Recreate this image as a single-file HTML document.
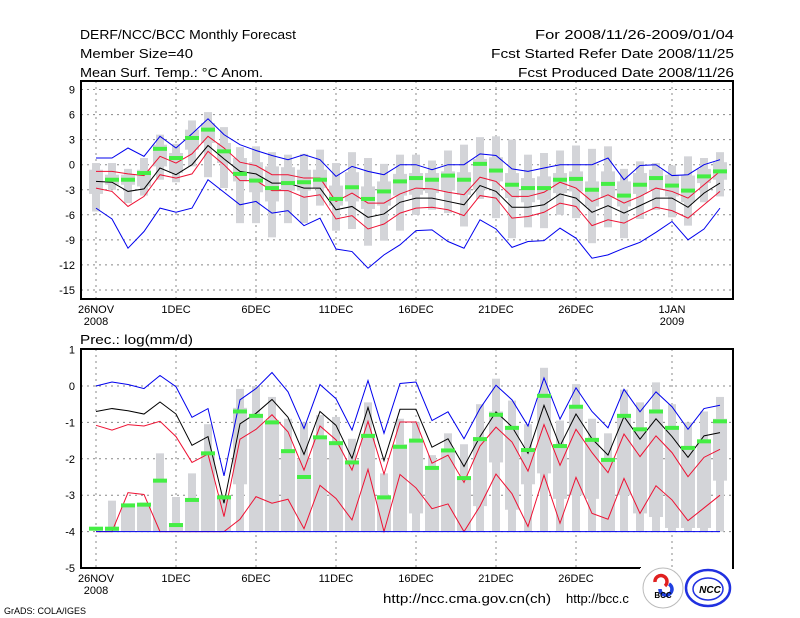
<!DOCTYPE html>
<html><head><meta charset="utf-8">
<style>
html,body{margin:0;padding:0;background:#fff;}
svg{display:block;}
text{font-family:"Liberation Sans",sans-serif;fill:#000;}
</style></head>
<body>
<svg id="chart" width="800" height="618" viewBox="0 0 800 618" xmlns="http://www.w3.org/2000/svg">
<rect width="800" height="618" fill="#fff"/>
<g font-size="13">
<text x="80" y="39" textLength="216" lengthAdjust="spacingAndGlyphs">DERF/NCC/BCC Monthly Forecast</text>
<text x="80" y="58" textLength="113" lengthAdjust="spacingAndGlyphs">Member Size=40</text>
<text x="80" y="77" textLength="183" lengthAdjust="spacingAndGlyphs">Mean Surf. Temp.: °C Anom.</text>
</g>
<g font-size="13" text-anchor="end">
<text x="734" y="39" textLength="199" lengthAdjust="spacingAndGlyphs">For 2008/11/26-2009/01/04</text>
<text x="734" y="58" textLength="243" lengthAdjust="spacingAndGlyphs">Fcst Started Refer Date 2008/11/25</text>
<text x="734" y="77" textLength="216" lengthAdjust="spacingAndGlyphs">Fcst Produced Date 2008/11/26</text>
</g>
<text x="80" y="344" font-size="13" textLength="113" lengthAdjust="spacingAndGlyphs">Prec.: log(mm/d)</text>
<g id="top"></g>
<g id="bot"></g>
<g font-size="13">
<text x="383" y="603" textLength="168" lengthAdjust="spacingAndGlyphs">http://ncc.cma.gov.cn(ch)</text>
<text x="566" y="603">http://bcc.c</text>
<text x="4" y="614" font-size="9">GrADS: COLA/IGES</text>
</g>
<g id="logos">
<rect x="641" y="567" width="91" height="3" fill="#fff"/>
<g>
<rect x="640" y="568" width="48" height="40" fill="#fff"/>
<circle cx="663" cy="588" r="20" fill="#fff" stroke="#bbb" stroke-width="1"/>
<path d="M655 582 a6 6 0 1 1 10 4" fill="none" stroke="#e02020" stroke-width="3.5"/>
<path d="M669 584 a6 6 0 1 1 -9 5" fill="none" stroke="#2040e0" stroke-width="3.5"/>
<text x="663" y="598" font-size="8" font-weight="bold" text-anchor="middle" fill="#333">BCC</text>
</g>
<g>
<ellipse cx="708" cy="588" rx="22" ry="18" fill="#fff" stroke="#2030e0" stroke-width="2.5"/>
<ellipse cx="708" cy="589" rx="15" ry="11" fill="none" stroke="#2030e0" stroke-width="1.5"/>
<text x="710" y="593" font-size="10" font-style="italic" font-weight="bold" text-anchor="middle" fill="#2030e0">NCC</text>
</g>
</g>
</svg>
<script>
// ---- temperature panel data ----
const tBlueHi=[0.8,0.8,2.0,1.0,3.4,2.0,3.7,5.5,3.6,2.4,1.7,1.1,0.6,1.2,0.6,-1.4,-0.2,-0.8,-1.2,0,0,-0.6,0,0,1.3,1.1,-0.5,-0.8,-0.4,0,0,0,0.8,-1.8,-0.1,0,-1.3,-1.2,0,0.6];
const tRedHi=[-0.8,-0.8,-1.1,-1.3,1.0,0.2,1.3,3.4,2.0,0.3,-0.1,-1.2,-1.2,-1.6,-1.6,-4.4,-3.4,-4.6,-4.6,-3.5,-2.8,-2.9,-3.3,-3.6,-1.5,-2.0,-3.8,-3.8,-3.3,-2.1,-2.8,-4.4,-3.6,-4.6,-3.8,-2.8,-3.2,-4.0,-2.4,-0.8];
const tMean=[-2.0,-2.1,-3.2,-2.9,-0.4,-1.2,0,2.3,0.7,-0.8,-1.1,-2.2,-2.2,-2.8,-2.8,-5.4,-5.0,-6.3,-5.9,-4.5,-4.0,-4.0,-4.4,-4.8,-2.5,-3.2,-5.1,-5.1,-4.8,-3.5,-4.0,-5.7,-4.9,-5.8,-4.9,-4.0,-4.0,-5.1,-3.4,-2.2];
const tRedLo=[-2.8,-3.2,-5.0,-3.8,-1.2,-1.6,-1.1,1.6,0,-1.9,-1.9,-3.1,-3.1,-3.9,-3.6,-6.5,-6.1,-7.7,-7.1,-5.8,-5.2,-5.1,-5.4,-6.1,-3.7,-4.0,-6.4,-6.2,-5.7,-4.6,-5.0,-7.3,-6.6,-7.0,-6.0,-5.1,-5.5,-6.4,-4.8,-3.2];
const tBlueLo=[-5.2,-6.5,-10,-8,-5.2,-5.7,-5.2,-1.8,-3.3,-4.8,-4.4,-5.8,-5.5,-7.3,-6.4,-10.1,-10.4,-12.4,-10.8,-9.6,-7.9,-7.8,-9.2,-10,-6.6,-7.7,-9.9,-9.2,-9.1,-7.6,-8.8,-11.2,-10.8,-10,-9.3,-8.1,-6.8,-9,-7.7,-5.2];
const tGreen=[null,-1.8,-1.8,-1.0,1.9,0.8,3.2,4.2,1.6,-1.1,-1.9,-2.8,-2.2,-2.1,-1.8,-4.1,-2.7,-4.1,-3.2,-2.0,-1.6,-1.8,-1.3,-1.8,0.1,-0.7,-2.4,-2.8,-2.8,-1.8,-1.7,-3.0,-2.3,-3.7,-2.4,-1.6,-2.5,-3.1,-1.4,-0.8];
const tWhiskHi=[0.2,0.2,-0.5,0.8,3.6,2.5,5.3,6.3,4.5,2.1,2.2,1.5,1.2,1.3,1.8,0.2,1.5,0.8,0.1,1.2,1.2,0.5,1.7,2.4,3.3,3.4,3.0,1.2,1.4,1.7,2.3,1.9,2.2,-0.5,0.4,0.2,-0.1,1.0,0.8,1.5];
const tWhiskLo=[-5.6,-3.0,-4.6,-3.7,-1.8,-2.1,-0.2,-1.5,-2.8,-7.0,-7.0,-8.7,-7.0,-7.0,-4.9,-7.9,-7.7,-9.7,-9.1,-7.9,-6.0,-5.4,-5.8,-7.4,-4.1,-6.4,-8.8,-7.5,-7.6,-6.0,-6.4,-9.4,-7.5,-8.8,-6.5,-5.4,-6.3,-7.3,-4.5,-3.8];
const tBoxHi=[-0.6,-1.2,-1.2,-0.6,2.4,1.4,4.2,5.0,2.6,0.8,0.3,-0.2,-0.3,-0.6,-0.6,-2.5,-0.9,-2.6,-2.0,-1.1,-1.0,-1.0,-0.8,-0.9,0.7,0.9,-1.0,-1.6,-1.4,-1.0,-0.8,-2.0,-0.8,-2.0,-1.0,-0.6,-1.2,-1.3,-0.5,0.3];
const tBoxLo=[-3.5,-2.4,-2.4,-2.6,-0.2,-1.0,1.8,2.6,0.2,-2.0,-3.3,-4.4,-3.1,-3.1,-2.8,-4.9,-4.4,-5.3,-4.9,-3.7,-3.6,-3.4,-3.1,-3.6,-3.0,-2.0,-4.0,-4.5,-4.2,-3.4,-3.2,-5.0,-4.0,-5.0,-3.5,-3.0,-3.8,-4.5,-2.2,-1.8];
const tTicks=[9,6,3,0,-3,-6,-9,-12,-15];
// ---- precipitation panel data ----
const pBlueHi=[0,0.11,0.04,-0.07,0.29,-0.02,-0.86,-0.62,-2.47,-0.38,-0.07,0.37,-0.16,-1.17,0.04,-0.35,-1.21,0.15,-1.3,0.07,0.11,-0.95,-0.71,-1.45,-0.62,0.02,-0.38,-1.1,0.22,-0.91,-0.05,-0.7,-1.15,-0.09,-0.71,-0.16,-0.57,-1.19,-0.62,-0.53];
const pRedHi=[-1.08,-1.21,-1.06,-1.1,-0.97,-1.39,-2.1,-1.87,-3.59,-1.46,-1.19,-0.79,-1.26,-2.31,-1.1,-1.48,-2.31,-0.97,-2.42,-0.99,-0.99,-2.12,-1.9,-2.65,-1.65,-1.13,-1.54,-2.34,-1.06,-2.18,-1.19,-1.83,-2.38,-1.32,-1.94,-1.37,-1.83,-2.49,-1.96,-1.74];
const pMean=[-0.7,-0.62,-0.68,-0.77,-0.44,-0.77,-1.63,-1.39,-3.22,-1.04,-0.75,-0.37,-0.86,-1.88,-0.7,-1.08,-1.99,-0.59,-2.05,-0.64,-0.64,-1.68,-1.45,-2.21,-1.39,-0.71,-1.12,-1.85,-0.53,-1.65,-0.77,-1.45,-1.9,-0.84,-1.46,-0.9,-1.39,-1.96,-1.37,-1.28];
const pRedLo=[-4,-4,-2.93,-2.98,-4,-4,-4,-4,-4,-3.66,-3.04,-3.22,-3.11,-3.92,-2.73,-3.09,-3.68,-2.29,-4,-2.43,-2.8,-3.37,-3.24,-4,-3.3,-2.42,-2.96,-3.86,-2.45,-3.77,-2.51,-3.5,-3.66,-2.54,-3.5,-2.74,-3.13,-3.7,-3.35,-3.0];
const pBlueLo=[-4,-4,-4,-4,-4,-4,-4,-4,-4,-4,-4,-4,-4,-4,-4,-4,-4,-4,-4,-4,-4,-4,-4,-4,-4,-4,-4,-4,-4,-4,-4,-4,-4,-4,-4,-4,-4,-4,-4,-4];
const pGreen=[-3.92,-3.92,-3.28,-3.26,-2.6,-3.82,-3.13,-1.85,-3.06,-0.7,-0.82,-1.0,-1.79,-2.5,-1.41,-1.57,-2.1,-1.37,-3.06,-1.67,-1.5,-2.25,-1.77,-2.53,-1.46,-0.79,-1.15,-1.76,-0.27,-1.65,-0.57,-1.48,-2.03,-0.82,-1.19,-0.7,-1.15,-1.7,-1.52,-0.97];
const pWhiskHi=[-4,-3.15,-3.25,-3.2,-1.85,-3.05,-2.4,-1.05,-3.0,-0.08,0.0,-0.3,-0.9,-1.0,-0.8,-0.85,-1.45,-0.45,-2.4,-0.9,-1.0,-1.9,-1.3,-1.6,-0.5,0.2,-0.4,-1.05,0.5,-0.95,0.05,-0.9,-1.3,-0.1,-0.45,0.1,-0.5,-1.0,-0.7,-0.3];
const pBoxHi=[-4,-3.9,-3.25,-3.25,-2.6,-3.8,-3.1,-1.8,-3.0,-0.6,-0.8,-1.0,-1.8,-2.0,-1.4,-1.6,-2.1,-1.4,-3.0,-1.6,-1.5,-2.3,-1.8,-2.5,-1.4,-0.7,-1.1,-1.8,-0.3,-1.6,-0.6,-1.5,-2.0,-0.8,-1.2,-0.7,-1.2,-1.7,-1.5,-0.9];
const pBoxLo=[-4,-4,-4,-4,-4,-4,-4,-4,-4,-2.7,-4,-4,-4,-4,-4,-4,-4,-4,-4,-4,-3.5,-4,-4,-4,-3.3,-2.1,-3.4,-2.7,-2.4,-3.1,-3.0,-3.1,-4,-3.0,-3.5,-3.6,-3.9,-3.9,-3.9,-2.6];
const pTicks=[1,0,-1,-2,-3,-4,-5];
const dateTicks=[0,5,10,15,20,25,30,36];
const dateLabels=["26NOV","1DEC","6DEC","11DEC","16DEC","21DEC","26DEC","1JAN"];
const yearLabels={0:"2008",36:"2009"};

const NS="http://www.w3.org/2000/svg";
function mk(parent,tag,attrs){const e=document.createElementNS(NS,tag);for(const k in attrs)e.setAttribute(k,attrs[k]);parent.appendChild(e);return e;}
const X=d=>96+16*d;
const L=81,R=733;

function panel(g,top,bottom,yOf,ticks,d){
  ticks.forEach(v=>{
    const y=yOf(v);
    if(y>top+2&&y<bottom-2){
      const gl=mk(g,'line',{x1:L,x2:R,y1:y,y2:y,stroke:'#888','stroke-width':1,'stroke-dasharray':'2,4'});
      
      
    }
    const t=mk(g,'text',{x:75,y:y+4,'font-size':11,'text-anchor':'end'});
    t.textContent=v;
    
    
  });
  dateTicks.forEach((dd,i)=>{
    const x=X(dd);
    const gl=mk(g,'line',{x1:x,x2:x,y1:top,y2:bottom,stroke:'#888','stroke-width':1,'stroke-dasharray':'2,4'});
    
    
    const t=mk(g,'text',{x:x,y:bottom+14,'font-size':11,'text-anchor':'middle'});
    t.textContent=dateLabels[i];
    
    
    if(yearLabels[dd]){
      const t2=mk(g,'text',{x:x,y:bottom+26,'font-size':11,'text-anchor':'middle'});
      t2.textContent=yearLabels[dd];
      
      
    }
  });
  for(let i=0;i<40;i++){
    const x=X(i);
    const a=yOf(d.wh[i]),b=yOf(d.wl[i]);
    if(b-a>0.5){
      const w=mk(g,'rect',{x:x-4,y:a,width:8,height:b-a,fill:'#d3d4d8'});
      
      
    }
    const c=yOf(d.bh[i]),e=yOf(d.bl[i]);
    if(e-c>0.5){
      const bx=mk(g,'rect',{x:x-7,y:c,width:14,height:e-c,fill:'#d3d4d8'});
      
      
    }
  }
  const line=(arr,col,name)=>{
    const p=mk(g,'polyline',{points:arr.map((v,i)=>X(i)+','+yOf(v)).join(' '),fill:'none',stroke:col,'stroke-width':1});
    
    
  };
  line(d.rl,'#ee1133','lower-red-line');
  line(d.rh,'#ee1133','upper-red-line');
  line(d.m,'#000','ensemble-mean-line');
  line(d.bhi,'#0000ee','max-blue-line');
  line(d.blo,'#0000ee','min-blue-line');
  d.g.forEach((v,i)=>{
    if(v===null)return;
    const r=mk(g,'rect',{x:X(i)-7,y:yOf(v)-2,width:14,height:4,fill:'#44ee44'});
    
    
  });
  const f=mk(g,'rect',{x:L,y:top,width:R-L,height:bottom-top,fill:'none',stroke:'#000','stroke-width':2});
  
  
}
const yT=v=>164.7-8.35*v;
const yP=v=>386-36.4*v;
panel(document.getElementById('top'),81,299,yT,tTicks,{wh:tWhiskHi,wl:tWhiskLo,bh:tBoxHi,bl:tBoxLo,rh:tRedHi,rl:tRedLo,m:tMean,bhi:tBlueHi,blo:tBlueLo,g:tGreen});
panel(document.getElementById('bot'),349,568,yP,pTicks,{wh:pWhiskHi,wl:pBlueLo,bh:pBoxHi,bl:pBoxLo,rh:pRedHi,rl:pRedLo,m:pMean,bhi:pBlueHi,blo:pBlueLo,g:pGreen});
const svg=document.getElementById('chart');
svg.appendChild(document.getElementById('logos'));
</script>
</body></html>
